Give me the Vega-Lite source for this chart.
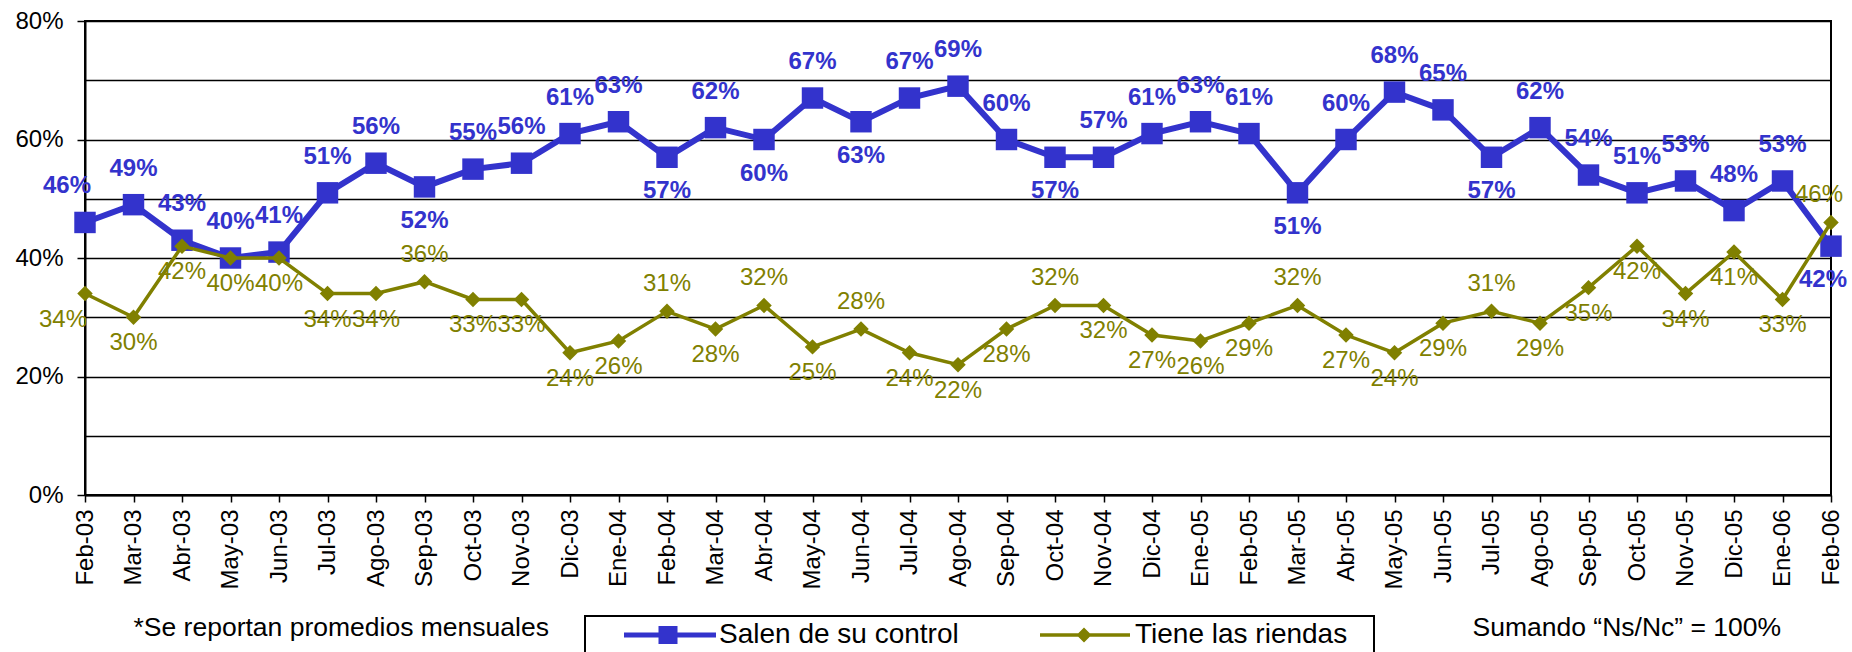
{
  "$schema": "https://vega.github.io/schema/vega-lite/v6.json",
  "width": 1746,
  "height": 474,
  "autosize": {"type": "none"},
  "padding": {"left": 85, "top": 21, "right": 21, "bottom": 157},
  "background": "white",
  "config": {
    "font": "Liberation Sans",
    "view": {"stroke": "#000", "strokeWidth": 2},
    "axis": {"labelColor": "#000", "tickColor": "#000", "domainColor": "#000", "domainWidth": 2, "tickWidth": 1.5, "labelFont": "Liberation Sans", "titleFont": "Liberation Sans"}
  },
  "data": {"values": [
    {"fecha":"2003-02","serie":"Salen de su control","valor":0.46},{"fecha":"2003-02","serie":"Tiene las riendas","valor":0.34},
    {"fecha":"2003-03","serie":"Salen de su control","valor":0.49},{"fecha":"2003-03","serie":"Tiene las riendas","valor":0.30},
    {"fecha":"2003-04","serie":"Salen de su control","valor":0.43},{"fecha":"2003-04","serie":"Tiene las riendas","valor":0.42},
    {"fecha":"2003-05","serie":"Salen de su control","valor":0.40},{"fecha":"2003-05","serie":"Tiene las riendas","valor":0.40},
    {"fecha":"2003-06","serie":"Salen de su control","valor":0.41},{"fecha":"2003-06","serie":"Tiene las riendas","valor":0.40},
    {"fecha":"2003-07","serie":"Salen de su control","valor":0.51},{"fecha":"2003-07","serie":"Tiene las riendas","valor":0.34},
    {"fecha":"2003-08","serie":"Salen de su control","valor":0.56},{"fecha":"2003-08","serie":"Tiene las riendas","valor":0.34},
    {"fecha":"2003-09","serie":"Salen de su control","valor":0.52},{"fecha":"2003-09","serie":"Tiene las riendas","valor":0.36},
    {"fecha":"2003-10","serie":"Salen de su control","valor":0.55},{"fecha":"2003-10","serie":"Tiene las riendas","valor":0.33},
    {"fecha":"2003-11","serie":"Salen de su control","valor":0.56},{"fecha":"2003-11","serie":"Tiene las riendas","valor":0.33},
    {"fecha":"2003-12","serie":"Salen de su control","valor":0.61},{"fecha":"2003-12","serie":"Tiene las riendas","valor":0.24},
    {"fecha":"2004-01","serie":"Salen de su control","valor":0.63},{"fecha":"2004-01","serie":"Tiene las riendas","valor":0.26},
    {"fecha":"2004-02","serie":"Salen de su control","valor":0.57},{"fecha":"2004-02","serie":"Tiene las riendas","valor":0.31},
    {"fecha":"2004-03","serie":"Salen de su control","valor":0.62},{"fecha":"2004-03","serie":"Tiene las riendas","valor":0.28},
    {"fecha":"2004-04","serie":"Salen de su control","valor":0.60},{"fecha":"2004-04","serie":"Tiene las riendas","valor":0.32},
    {"fecha":"2004-05","serie":"Salen de su control","valor":0.67},{"fecha":"2004-05","serie":"Tiene las riendas","valor":0.25},
    {"fecha":"2004-06","serie":"Salen de su control","valor":0.63},{"fecha":"2004-06","serie":"Tiene las riendas","valor":0.28},
    {"fecha":"2004-07","serie":"Salen de su control","valor":0.67},{"fecha":"2004-07","serie":"Tiene las riendas","valor":0.24},
    {"fecha":"2004-08","serie":"Salen de su control","valor":0.69},{"fecha":"2004-08","serie":"Tiene las riendas","valor":0.22},
    {"fecha":"2004-09","serie":"Salen de su control","valor":0.60},{"fecha":"2004-09","serie":"Tiene las riendas","valor":0.28},
    {"fecha":"2004-10","serie":"Salen de su control","valor":0.57},{"fecha":"2004-10","serie":"Tiene las riendas","valor":0.32},
    {"fecha":"2004-11","serie":"Salen de su control","valor":0.57},{"fecha":"2004-11","serie":"Tiene las riendas","valor":0.32},
    {"fecha":"2004-12","serie":"Salen de su control","valor":0.61},{"fecha":"2004-12","serie":"Tiene las riendas","valor":0.27},
    {"fecha":"2005-01","serie":"Salen de su control","valor":0.63},{"fecha":"2005-01","serie":"Tiene las riendas","valor":0.26},
    {"fecha":"2005-02","serie":"Salen de su control","valor":0.61},{"fecha":"2005-02","serie":"Tiene las riendas","valor":0.29},
    {"fecha":"2005-03","serie":"Salen de su control","valor":0.51},{"fecha":"2005-03","serie":"Tiene las riendas","valor":0.32},
    {"fecha":"2005-04","serie":"Salen de su control","valor":0.60},{"fecha":"2005-04","serie":"Tiene las riendas","valor":0.27},
    {"fecha":"2005-05","serie":"Salen de su control","valor":0.68},{"fecha":"2005-05","serie":"Tiene las riendas","valor":0.24},
    {"fecha":"2005-06","serie":"Salen de su control","valor":0.65},{"fecha":"2005-06","serie":"Tiene las riendas","valor":0.29},
    {"fecha":"2005-07","serie":"Salen de su control","valor":0.57},{"fecha":"2005-07","serie":"Tiene las riendas","valor":0.31},
    {"fecha":"2005-08","serie":"Salen de su control","valor":0.62},{"fecha":"2005-08","serie":"Tiene las riendas","valor":0.29},
    {"fecha":"2005-09","serie":"Salen de su control","valor":0.54},{"fecha":"2005-09","serie":"Tiene las riendas","valor":0.35},
    {"fecha":"2005-10","serie":"Salen de su control","valor":0.51},{"fecha":"2005-10","serie":"Tiene las riendas","valor":0.42},
    {"fecha":"2005-11","serie":"Salen de su control","valor":0.53},{"fecha":"2005-11","serie":"Tiene las riendas","valor":0.34},
    {"fecha":"2005-12","serie":"Salen de su control","valor":0.48},{"fecha":"2005-12","serie":"Tiene las riendas","valor":0.41},
    {"fecha":"2006-01","serie":"Salen de su control","valor":0.53},{"fecha":"2006-01","serie":"Tiene las riendas","valor":0.33},
    {"fecha":"2006-02","serie":"Salen de su control","valor":0.42},{"fecha":"2006-02","serie":"Tiene las riendas","valor":0.46}
  ]},
  "transform": [
    {"window": [{"op": "lag", "field": "valor", "as": "prev"}, {"op": "lead", "field": "valor", "as": "next"}], "groupby": ["serie"], "sort": [{"field": "fecha"}]},
    {"window": [{"op": "max", "field": "valor", "as": "mesmax"}, {"op": "min", "field": "valor", "as": "mesmin"}], "groupby": ["fecha"], "frame": [null, null]}
  ],
  "encoding": {
    "x": {
      "field": "fecha", "type": "ordinal",
      "scale": {"type": "point", "padding": 0},
      "axis": {
        "labelExpr": "['Ene','Feb','Mar','Abr','May','Jun','Jul','Ago','Sep','Oct','Nov','Dic'][toNumber(slice(datum.value,5,7))-1] + '-' + slice(datum.value,2,4)",
        "labelAngle": -90, "labelFontSize": 24, "labelOverlap": false, "labelPadding": 7, "tickSize": 7,
        "title": "Sumando “Ns/Nc” = 100%", "titleFontSize": 26.5, "titleFontWeight": "normal", "titleColor": "#000",
        "titleAngle": 0, "titleAlign": "left", "titleBaseline": "alphabetic", "titleX": 1387, "titleY": 140,
        "grid": false
      }
    },
    "y": {
      "field": "valor", "type": "quantitative",
      "scale": {"domain": [0, 0.8], "nice": false},
      "axis": {
        "values": [0, 0.1, 0.2, 0.3, 0.4, 0.5, 0.6, 0.7, 0.8],
        "format": ".0%",
        "labelExpr": "round(datum.value*100) % 20 == 0 ? datum.label : ''",
        "labelFontSize": 24, "labelPadding": 14, "tickSize": 8,
        "tickColor": {"condition": {"test": "round(datum.value*100) % 20 != 0", "value": "transparent"}, "value": "#000"},
        "grid": true, "gridColor": "#000", "gridWidth": 1.6, "gridOpacity": 1,
        "title": "*Se reportan promedios mensuales", "titleFontSize": 26.5, "titleFontWeight": "normal", "titleColor": "#000",
        "titleAngle": 0, "titleAlign": "left", "titleBaseline": "alphabetic", "titleX": 48, "titleY": 614
      }
    },
    "color": {
      "field": "serie", "type": "nominal",
      "scale": {"domain": ["Salen de su control", "Tiene las riendas"], "range": ["#3333CC", "#808000"]},
      "legend": {
        "title": "\u00a0", "titleOrient": "right", "titlePadding": 22, "titleFontSize": 28, "titleFont": "Liberation Sans",
        "orient": "none", "legendX": 500, "legendY": 595, "direction": "horizontal",
        "padding": 5, "strokeColor": "#000", "fillColor": "white",
        "labelFontSize": 28, "labelColor": "#000", "labelLimit": 400, "labelFont": "Liberation Sans",
        "symbolSize": 400, "symbolStrokeWidth": 0, "symbolOffset": 64, "labelOffset": 37, "columnPadding": 47,
        "encode": {
          "legend": {"update": {"strokeWidth": {"value": 2}}},
          "symbols": {"update": {
            "shape": {"signal": "datum.value === 'Salen de su control' ? 'M-4.4,-0.25H4.8V0.25H-4.4ZM-0.95,-0.9H0.95V0.9H-0.95Z' : 'M-4.4,-0.17H4.6V0.17H-4.4ZM0,-0.75L0.75,0L0,0.75L-0.75,0Z'"},
            "fill": {"signal": "datum.value === 'Salen de su control' ? '#3333CC' : '#808000'"},
            "fillOpacity": {"value": 1},
            "stroke": {"value": "transparent"},
            "strokeWidth": {"value": 0},
            "opacity": {"value": 1}
          }}
        }
      }
    }
  },
  "layer": [
    {"transform": [{"filter": "datum.serie==='Salen de su control'"}], "mark": {"type": "line", "strokeWidth": 6, "color": "#3a3aee"}, "encoding": {"color": {"field": "serie", "type": "nominal"}}},
    {"transform": [{"filter": "datum.serie==='Salen de su control'"}], "mark": {"type": "point", "shape": "square", "size": 460, "filled": true, "opacity": 1}},
    {"transform": [{"filter": "datum.serie==='Tiene las riendas'"}], "mark": {"type": "line", "strokeWidth": 3.5}},
    {"transform": [{"filter": "datum.serie==='Tiene las riendas'"}], "mark": {"type": "point", "shape": "diamond", "size": 240, "filled": true, "opacity": 1}},
    {"transform": [{"filter": "datum.serie==='Salen de su control' && datum.prev!=null && datum.next!=null && !((datum.valor===datum.mesmin && datum.valor<datum.mesmax) || (datum.valor-datum.mesmin>=0.145 && datum.valor<datum.prev && datum.valor<=datum.next))"}],
     "mark": {"type": "text", "dy": -36, "fontSize": 24, "fontWeight": "bold"},
     "encoding": {"text": {"field": "valor", "type": "quantitative", "format": ".0%"}, "color": {"value": "#3333CC"}}},
    {"transform": [{"filter": "datum.serie==='Salen de su control' && datum.prev!=null && datum.next!=null && ((datum.valor===datum.mesmin && datum.valor<datum.mesmax) || (datum.valor-datum.mesmin>=0.145 && datum.valor<datum.prev && datum.valor<=datum.next))"}],
     "mark": {"type": "text", "dy": 34, "fontSize": 24, "fontWeight": "bold"},
     "encoding": {"text": {"field": "valor", "type": "quantitative", "format": ".0%"}, "color": {"value": "#3333CC"}}},
    {"transform": [{"filter": "datum.serie==='Tiene las riendas' && datum.prev!=null && datum.next!=null && ((datum.valor===datum.mesmax && datum.valor>datum.mesmin) || (datum.mesmax-datum.valor>=0.145 && datum.valor>datum.prev && datum.valor>=datum.next))"}],
     "mark": {"type": "text", "dy": -27, "fontSize": 24},
     "encoding": {"text": {"field": "valor", "type": "quantitative", "format": ".0%"}, "color": {"value": "#808000"}}},
    {"transform": [{"filter": "datum.serie==='Tiene las riendas' && datum.prev!=null && datum.next!=null && !((datum.valor===datum.mesmax && datum.valor>datum.mesmin) || (datum.mesmax-datum.valor>=0.145 && datum.valor>datum.prev && datum.valor>=datum.next))"}],
     "mark": {"type": "text", "dy": 26, "fontSize": 24},
     "encoding": {"text": {"field": "valor", "type": "quantitative", "format": ".0%"}, "color": {"value": "#808000"}}},
    {"transform": [{"filter": "datum.serie==='Salen de su control' && datum.prev==null"}],
     "mark": {"type": "text", "dy": -36, "dx": -18, "fontSize": 24, "fontWeight": "bold"},
     "encoding": {"text": {"field": "valor", "type": "quantitative", "format": ".0%"}, "color": {"value": "#3333CC"}}},
    {"transform": [{"filter": "datum.serie==='Tiene las riendas' && datum.prev==null"}],
     "mark": {"type": "text", "dy": 26, "dx": -22, "fontSize": 24},
     "encoding": {"text": {"field": "valor", "type": "quantitative", "format": ".0%"}, "color": {"value": "#808000"}}},
    {"transform": [{"filter": "datum.serie==='Salen de su control' && datum.next==null"}],
     "mark": {"type": "text", "dy": 34, "dx": -8, "fontSize": 24, "fontWeight": "bold"},
     "encoding": {"text": {"field": "valor", "type": "quantitative", "format": ".0%"}, "color": {"value": "#3333CC"}}},
    {"transform": [{"filter": "datum.serie==='Tiene las riendas' && datum.next==null"}],
     "mark": {"type": "text", "dy": -27, "dx": -12, "fontSize": 24},
     "encoding": {"text": {"field": "valor", "type": "quantitative", "format": ".0%"}, "color": {"value": "#808000"}}}
  ]
}
